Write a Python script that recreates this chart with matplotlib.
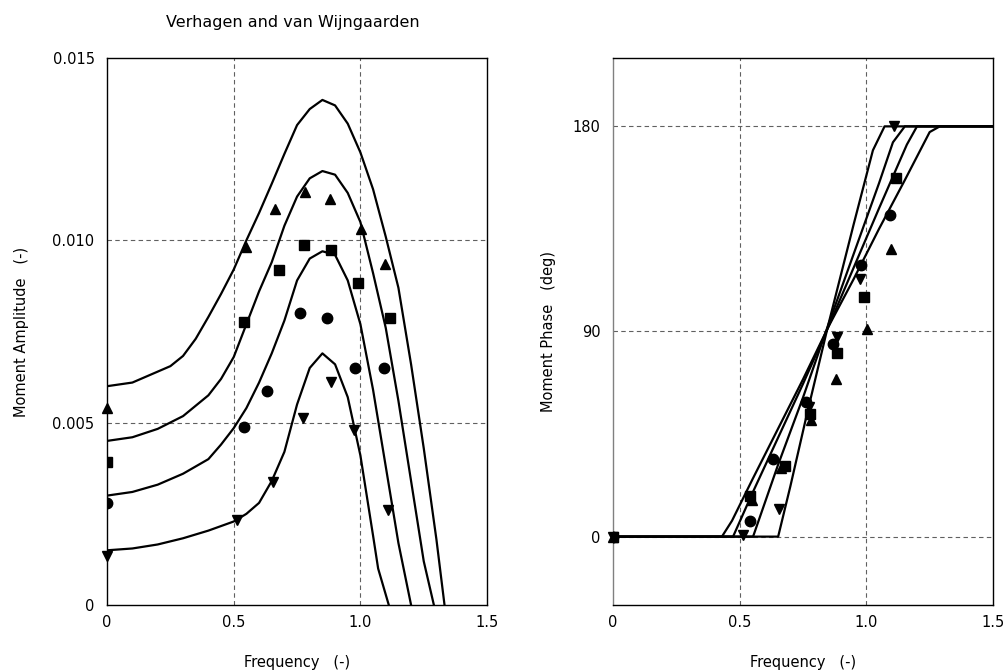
import matplotlib
matplotlib.use('Agg')
import matplotlib.pyplot as plt

# amplitude curves
amp_x_a = [0, 0.1, 0.2, 0.25, 0.3, 0.35, 0.4, 0.45, 0.5, 0.55, 0.6, 0.65, 0.7, 0.75, 0.8, 0.85, 0.9, 0.95, 1.0, 1.05, 1.1, 1.15, 1.2, 1.25, 1.3, 1.332]
amp_a = [0.0060, 0.0061, 0.0064, 0.00655, 0.00683, 0.0073, 0.0079, 0.00853, 0.0092, 0.0100, 0.01075, 0.01155, 0.01237, 0.01316, 0.0136, 0.01385, 0.0137, 0.0132, 0.01241, 0.0114, 0.0101, 0.0087, 0.0066, 0.0043, 0.0018, 0]
amp_x_b = [0, 0.1, 0.2, 0.3, 0.4, 0.45, 0.5, 0.55, 0.6, 0.65, 0.7, 0.75, 0.8, 0.85, 0.9, 0.95, 1.0, 1.05, 1.1, 1.15, 1.2, 1.25, 1.29]
amp_b = [0.0045, 0.0046, 0.00483, 0.00518, 0.00575, 0.0062, 0.0068, 0.0077, 0.0086, 0.0094, 0.0104, 0.0112, 0.0117, 0.0119, 0.0118, 0.0113, 0.0105, 0.0091, 0.0076, 0.0056, 0.0034, 0.0012, 0]
amp_x_c = [0, 0.1, 0.2, 0.3, 0.4, 0.45, 0.5, 0.55, 0.6, 0.65, 0.7, 0.75, 0.8, 0.85, 0.9, 0.95, 1.0, 1.05, 1.1, 1.15, 1.2]
amp_c = [0.0030, 0.0031, 0.0033, 0.0036, 0.0040, 0.0044, 0.00485, 0.0054, 0.0061, 0.0069, 0.0078, 0.0089, 0.0095, 0.0097, 0.0096, 0.0089, 0.0077, 0.0059, 0.0038, 0.0017, 0]
amp_x_d = [0, 0.1, 0.2, 0.3, 0.4, 0.5, 0.55, 0.6, 0.65, 0.7, 0.75, 0.8, 0.85, 0.9, 0.95, 1.0, 1.05, 1.07, 1.112]
amp_d = [0.0015, 0.00155, 0.00166, 0.00183, 0.00204, 0.00229, 0.0025, 0.0028, 0.0034, 0.0042, 0.0055, 0.0065, 0.0069, 0.0066, 0.0057, 0.0041, 0.0019, 0.0010, 0]

# phase curves
ph_x_a = [0, 0.43, 0.47, 0.55, 0.65, 0.75, 0.85, 0.95, 1.05, 1.15, 1.25, 1.29, 1.5]
ph_a = [0, 0, 7, 25, 47, 69, 92, 113, 135, 156, 177.5, 180, 180]
ph_x_b = [0, 0.474, 0.55, 0.65, 0.75, 0.85, 0.95, 1.05, 1.16, 1.2, 1.5]
ph_b = [0, 0, 19, 43, 67, 92, 118, 144, 172, 180, 180]
ph_x_c = [0, 0.553, 0.65, 0.75, 0.85, 0.95, 1.05, 1.105, 1.152, 1.5]
ph_c = [0, 0, 31, 61, 93, 124, 155, 173, 180, 180]
ph_x_d = [0, 0.652, 0.7, 0.764, 0.85, 0.95, 1.026, 1.072, 1.5]
ph_d = [0, 0, 22, 53, 93, 137, 169.5, 180, 180]

# measured points
tri_up_f = [0, 0.548, 0.662, 0.782, 0.879, 1.004, 1.096]
tri_up_amp = [0.00539, 0.00982, 0.01085, 0.01132, 0.01114, 0.01032, 0.00936]
tri_up_ph = [0, 16, 30, 51, 69, 91, 126]
square_f = [0, 0.541, 0.679, 0.776, 0.884, 0.989, 1.116]
square_amp = [0.00393, 0.00776, 0.0092, 0.00988, 0.00974, 0.00883, 0.00786]
square_ph = [0, 18, 31, 54, 80.5, 105, 157.5]
circle_f = [0, 0.541, 0.633, 0.763, 0.868, 0.98, 1.095]
circle_amp = [0.00279, 0.00487, 0.00587, 0.00802, 0.00787, 0.0065, 0.0065]
circle_ph = [0, 7, 34, 59, 84.5, 119, 141]
tri_down_f = [0, 0.512, 0.654, 0.773, 0.885, 0.974, 1.108]
tri_down_amp = [0.00135, 0.00232, 0.00338, 0.00512, 0.00612, 0.0048, 0.00261]
tri_down_ph = [0, 0.5, 12, 57, 87.5, 113, 180]

fig = plt.figure(figsize=(10.07, 6.72), dpi=100)
ax1 = fig.add_axes([0.1063, 0.0997, 0.3774, 0.814])
ax2 = fig.add_axes([0.6087, 0.0997, 0.3774, 0.814])

grid_kw = dict(color='#606060', lw=0.8, ls=(0, (4, 3)), zorder=0)

for x, y in [(amp_x_a, amp_a), (amp_x_b, amp_b), (amp_x_c, amp_c), (amp_x_d, amp_d)]:
    ax1.plot(x, y, color='black', lw=1.6, zorder=2)
for x, y in [(ph_x_a, ph_a), (ph_x_b, ph_b), (ph_x_c, ph_c), (ph_x_d, ph_d)]:
    ax2.plot(x, y, color='black', lw=1.6, zorder=2)

markers = [(tri_up_f, tri_up_amp, tri_up_ph, '^', 7.5, False),
           (square_f, square_amp, square_ph, 's', 7, True),
           (circle_f, circle_amp, circle_ph, 'o', 7.5, True),
           (tri_down_f, tri_down_amp, tri_down_ph, 'v', 7.5, False)]
for f, a, p, m, ms, clip in markers:
    ax1.plot(f, a, ls='none', marker=m, ms=ms, color='black', zorder=3, clip_on=clip)
    ax2.plot(f, p, ls='none', marker=m, ms=ms, color='black', zorder=3, clip_on=clip)

ax1.set_xlim(0, 1.5)
ax1.set_ylim(0, 0.015)
ax1.set_xticks([0, 0.5, 1.0, 1.5])
ax1.set_xticklabels(['0', '0.5', '1.0', '1.5'])
ax1.set_yticks([0, 0.005, 0.010, 0.015])
ax1.set_yticklabels(['0', '0.005', '0.010', '0.015'])
for v in [0.5, 1.0]:
    ax1.axvline(v, **grid_kw)
for v in [0.005, 0.010]:
    ax1.axhline(v, **grid_kw)

ax2.set_xlim(0, 1.5)
ax2.set_ylim(-30, 210)
ax2.set_xticks([0, 0.5, 1.0, 1.5])
ax2.set_xticklabels(['0', '0.5', '1.0', '1.5'])
ax2.set_yticks([0, 90, 180])
ax2.set_yticklabels(['0', '90', '180'])
for v in [0.5, 1.0]:
    ax2.axvline(v, **grid_kw)
for v in [0, 90, 180]:
    ax2.axhline(v, **grid_kw)

for ax in (ax1, ax2):
    ax.tick_params(axis='x', length=0, labelsize=10.5, pad=7)
    ax.tick_params(axis='y', length=0, labelsize=10.5, pad=9)
    for s in ax.spines.values():
        s.set_linewidth(1.0)
        s.set_color('black')
ax2.spines['left'].set_color('#808080')

ax1.set_xlabel('Frequency   (-)', fontsize=10.5, labelpad=18)
ax1.set_ylabel('Moment Amplitude   (-)', fontsize=10.5, labelpad=17)
ax2.set_xlabel('Frequency   (-)', fontsize=10.5, labelpad=18)
ax2.set_ylabel('Moment Phase   (deg)', fontsize=10.5, labelpad=12)

fig.text(0.291, 0.967, 'Verhagen and van Wijngaarden', fontsize=11.5,
         ha='center', va='center')

fig.savefig('out.png', dpi=100)
